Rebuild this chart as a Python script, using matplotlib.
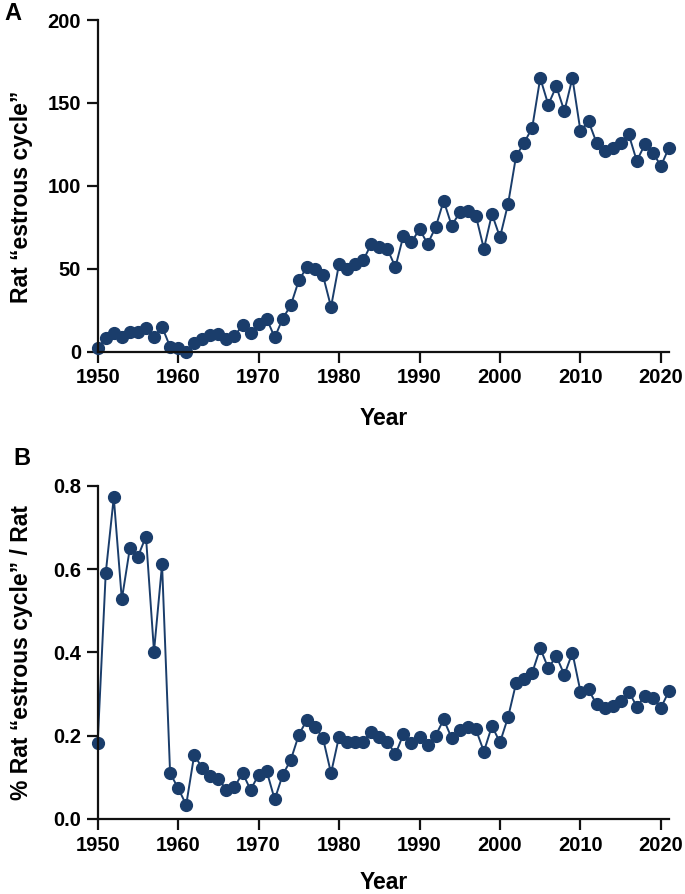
import numpy as np
import matplotlib
matplotlib.use("Agg")
import matplotlib.pyplot as plt

plt.rcParams['font.family'] = ['Liberation Sans', 'DejaVu Sans']
plt.rcParams['font.weight'] = 'bold'

# data
years = list(range(1950, 2022))

rat_estrous = [2, 8, 11, 9, 12, 12, 14, 9, 15, 3,
               2, 0, 5.4, 7.4, 10, 10.5, 7.4, 9.4, 16, 11,
               17, 20, 8.6, 20, 28, 43, 51, 50, 46, 27,
               53, 50, 53, 55, 65, 63, 62, 51, 70, 66,
               74, 65, 75, 91, 76, 84, 85, 82, 62, 83,
               69, 89, 118, 126, 135, 165, 149, 160, 145, 165,
               133, 139, 126, 121, 123, 126, 131, 115, 125, 120,
               112, 123]

pct_estrous = [0.183, 0.59, 0.772, 0.527, 0.65, 0.63, 0.678, 0.402, 0.611, 0.110,
               0.074, 0.034, 0.154, 0.122, 0.103, 0.096, 0.070, 0.076, 0.111, 0.070,
               0.106, 0.115, 0.047, 0.106, 0.142, 0.202, 0.238, 0.222, 0.194, 0.110,
               0.198, 0.186, 0.186, 0.186, 0.210, 0.198, 0.186, 0.155, 0.204, 0.182,
               0.198, 0.178, 0.200, 0.239, 0.194, 0.214, 0.220, 0.215, 0.162, 0.223,
               0.184, 0.244, 0.326, 0.335, 0.351, 0.410, 0.362, 0.391, 0.346, 0.399,
               0.306, 0.311, 0.275, 0.266, 0.272, 0.283, 0.306, 0.270, 0.295, 0.290,
               0.267, 0.307]

xticks = [1950, 1960, 1970, 1980, 1990, 2000, 2010, 2020]
navy = '#1a3d6b'

fig = plt.figure(figsize=(6.85, 8.94), dpi=100)
ax1 = fig.add_axes([0.1426, 0.6066, 0.834, 0.371])
ax2 = fig.add_axes([0.1426, 0.0839, 0.834, 0.3728])


def style(ax, ylab):
    for s in ['top', 'right']:
        ax.spines[s].set_visible(False)
    for s in ['left', 'bottom']:
        ax.spines[s].set_linewidth(1.6)
        ax.spines[s].set_color('#111111')
    ax.tick_params(direction='out', length=8, width=1.6, labelsize=14.5,
                   color='#111111', pad=4)
    ax.set_xticks(xticks)
    ax.set_xlim(1950, 2021)
    for lab in ax.get_xticklabels() + ax.get_yticklabels():
        lab.set_fontweight('bold')
    ax.set_xlabel('Year', fontsize=16.5, fontweight='bold')
    ax.xaxis.set_label_coords(0.5, ylab)


ax1.plot(years, rat_estrous, '-o', color=navy, lw=1.4, ms=8.5, clip_on=False)
ax1.set_ylim(0, 200)
ax1.set_yticks([0, 50, 100, 150, 200])
ax1.set_ylabel('Rat \u201cestrous cycle\u201d', fontsize=16.5, fontweight='bold')
ax1.yaxis.set_label_coords(-0.113, 0.467)
style(ax1, -0.167)

ax2.plot(years, pct_estrous, '-o', color=navy, lw=1.4, ms=8.5, clip_on=False)
ax2.set_ylim(0, 0.8)
ax2.set_yticks([0.0, 0.2, 0.4, 0.6, 0.8])
ax2.set_yticklabels(['0.0', '0.2', '0.4', '0.6', '0.8'])
ax2.set_ylabel('% Rat \u201cestrous cycle\u201d / Rat', fontsize=16.5, fontweight='bold')
ax2.yaxis.set_label_coords(-0.113, 0.5)
style(ax2, -0.156)

fig.text(0.006, 0.985, 'A', fontsize=17, fontweight='bold', va='center')
fig.text(0.019, 0.487, 'B', fontsize=17, fontweight='bold', va='center')

fig.savefig('out.png', dpi=100)
